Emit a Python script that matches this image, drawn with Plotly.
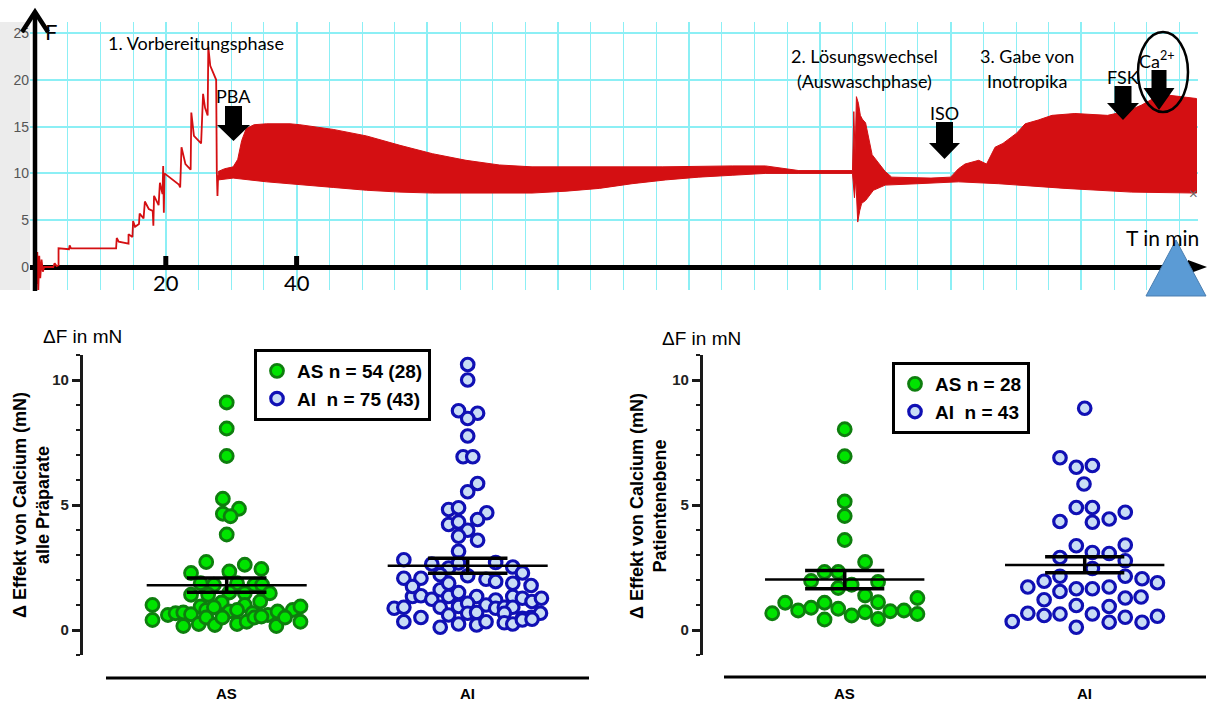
import numpy as np
import plotly.graph_objects as go

W, H = 1207, 703

# ---------------- data: force trace (top) ----------------
prep_t = [0.0, 0.1, 0.2, 0.35, 0.5, 0.65, 0.8, 1.0, 1.2, 1.4, 2.8, 3.0, 3.3, 3.6, 3.6, 5.2, 5.3, 5.5, 12.4, 12.5,
          12.8, 14.3, 14.3, 14.9, 15.0, 15.3, 15.9, 16.0, 16.6, 16.8, 17.4, 18.0, 18.1, 18.2, 18.9, 19.1, 19.5, 19.6,
          19.7, 19.8, 22.0, 22.2, 22.4, 23.0, 23.8, 23.9, 24.3, 25.4, 25.7, 26.0, 26.4, 26.5, 26.8, 27.7, 27.8, 27.9, 28.0]
prep_f = [0.0, 2.4, -1.8, 1.6, -2.6, 1.2, -1.2, 0.8, -0.5, 0.0, 0.0, 0.4, 0.1, 0.2, 2.0, 1.9, 2.3, 2.0, 2.0, 3.1,
          2.7, 2.5, 3.5, 3.2, 4.9, 4.3, 4.6, 5.7, 5.2, 7.0, 6.2, 6.0, 4.4, 7.6, 6.6, 9.0, 7.8, 10.8, 5.8, 10.0,
          8.8, 8.5, 12.8, 11.0, 10.4, 16.5, 14.0, 13.2, 18.5, 17.0, 16.2, 23.5, 21.5, 20.0, 10.2, 7.6, 9.8]

up_t = [28.0, 29.0, 30.3, 31.0, 31.6, 32.3, 33.5, 35.4, 39.0, 40.5, 45.6, 50.7, 55.8, 60.8, 65.9, 71.0, 76.0, 86.0,
        96.0, 106.6, 111.7, 116.8, 125.0, 125.2, 125.4, 125.6, 125.9, 126.2, 126.5, 127.0, 128.0, 130.0, 131.0,
        137.0, 140.0, 141.2, 142.2, 144.3, 145.5, 146.8, 148.0, 150.1, 151.4, 153.4, 155.5, 159.0, 164.0, 167.2,
        169.2, 171.0, 172.8, 177.6]
up_f = [10.2, 10.5, 10.7, 11.5, 13.5, 14.8, 15.2, 15.3, 15.3, 15.2, 14.7, 14.0, 13.0, 12.1, 11.4, 10.9, 10.7, 10.7,
        10.7, 10.8, 10.8, 10.3, 10.3, 16.6, 12.0, 18.2, 17.5, 16.2, 15.8, 15.4, 12.0, 10.2, 9.6,
        9.5, 9.6, 10.5, 11.0, 11.4, 11.0, 12.8, 13.2, 14.3, 15.3, 15.7, 16.2, 16.4, 16.2, 16.7,
        17.3, 18.0, 18.4, 18.0]
lo_t = [28.0, 29.0, 30.3, 35.4, 40.5, 45.6, 50.7, 55.8, 60.8, 70.0, 76.0, 81.2, 86.3, 91.3, 96.4, 101.5, 106.6,
        111.7, 116.8, 125.0, 125.3, 125.5, 125.8, 126.1, 126.4, 127.0, 128.2, 130.0, 135.0, 141.2, 147.3, 157.5,
        167.7, 177.6]
lo_f = [9.3, 9.4, 9.5, 9.1, 8.8, 8.5, 8.2, 8.0, 7.9, 7.9, 7.9, 8.1, 8.4, 8.9, 9.3, 9.6, 9.8,
        10.0, 10.0, 10.0, 7.4, 9.5, 4.8, 6.0, 6.8, 7.1, 8.2, 8.75, 8.9, 9.1, 8.9, 8.4,
        8.0, 7.9]

# ---------------- data: scatter panels ----------------
categories = ["AS", "AI"]

as_all_off = [0, 0, 0, -0.016, 0.051, -0.016, 0.016, 0,
              -0.085, -0.148, 0.011, 0.075, 0.144,
              -0.108, -0.053, 0.043, 0.115, 0.147,
              -0.148, -0.077, 0.011, 0.075, 0.179,
              -0.021, 0.139, -0.108, 0.075, -0.308,
              -0.244, -0.212, -0.180, -0.148, -0.085, -0.053, 0.011, 0.043, 0.107, 0.171, 0.211, 0.274, 0.306,
              -0.308, -0.180, -0.116, -0.085, -0.049, -0.018, 0.043, 0.083, 0.115, 0.144, 0.206, 0.242, 0.306]
as_all_val = [9.10, 8.06, 6.96, 5.25, 4.85, 4.65, 4.55, 3.82,
              2.72, 2.28, 2.34, 2.61, 2.44,
              1.87, 1.81, 1.87, 1.81, 1.81,
              1.41, 1.41, 1.50, 1.47, 1.47,
              1.10, 1.14, 0.94, 1.00, 1.00,
              0.60, 0.67, 0.70, 0.63, 0.80, 0.91, 0.74, 0.80, 0.67, 0.60, 0.74, 0.80, 0.94,
              0.40, 0.16, 0.24, 0.50, 0.20, 0.50, 0.24, 0.33, 0.50, 0.54, 0.16, 0.50, 0.33]

ai_all_off = [0, 0, -0.038, 0.041, 0, 0, -0.019, 0.021, 0.041, 0, 0.079, -0.079, -0.038, -0.079, -0.038, 0.041, 0,
              -0.038, 0.041, -0.038,
              -0.265, -0.149, 0.116, -0.079, 0.187,
              -0.265, -0.194, -0.114, 0, 0.076, 0.116, 0.187, 0.227, 0.263,
              -0.229, -0.194, -0.149, -0.114, -0.079, -0.038, 0.037, 0.116, 0.187, 0.227, 0.267, 0.306,
              -0.305, -0.265, -0.114, -0.038, 0, 0.076, 0.116, 0.152, 0.187,
              -0.194, -0.079, 0, 0.037, 0.152, 0.227, 0.263, 0.302,
              -0.265, -0.114, -0.038, 0.037, 0.076, 0.152, 0.187, 0.227, 0.267,
              -0.229, -0.079, -0.038]
ai_all_val = [10.62, 10.0, 8.77, 8.67, 8.46, 7.76, 6.93, 6.93, 5.86, 5.53, 4.69, 4.82, 4.89, 4.22, 4.32, 4.42, 3.99,
              3.75, 3.59, 3.15,
              2.81, 2.64, 2.70, 2.48, 2.52,
              2.07, 2.07, 2.21, 2.17, 2.03, 1.94, 1.87, 2.28, 1.78,
              1.34, 1.37, 1.23, 1.61, 1.34, 1.50, 1.34, 1.20, 1.34, 1.27, 1.14, 1.27,
              0.87, 0.91, 0.91, 0.94, 1.07, 1.00, 0.87, 0.91, 0.91,
              0.50, 0.60, 0.67, 0.70, 0.67, 0.47, 0.51, 0.67,
              0.33, 0.11, 0.24, 0.20, 0.33, 0.29, 0.24, 0.40, 0.43,
              1.74, 1.87, 2.68]

as_pat_off = [0, 0, 0, 0, 0, 0.085, -0.084, -0.027, -0.140, 0.029, -0.027, 0.139, 0.085, 0.303, -0.248, -0.084,
              0.139, -0.302, -0.194, -0.140, -0.027, 0.085, 0.190, 0.247, 0.303, -0.084, 0.029, 0.139]
as_pat_val = [8.03, 6.95, 5.14, 4.56, 3.60, 2.72, 2.32, 2.32, 1.96, 1.81, 1.68, 1.92, 1.38, 1.28, 1.09, 1.09,
              1.11, 0.67, 0.78, 0.89, 0.85, 0.71, 0.75, 0.78, 0.64, 0.42, 0.58, 0.44]

ai_pat_off = [0, -0.103, -0.035, 0.032, -0.003, -0.035, 0.032, 0.169, -0.103, 0.032, 0.102, -0.035, 0.169, -0.103,
              0.032, 0.102, 0.169, -0.103, 0.032, 0.169, -0.237, -0.169, -0.103, -0.035, 0.032, 0.102, 0.239,
              0.303, -0.169, -0.035, 0.102, 0.169, 0.235, -0.302, -0.237, -0.169, -0.103, 0.032, -0.035, 0.102,
              0.169, 0.239, 0.303]
ai_pat_val = [8.87, 6.89, 6.51, 6.58, 5.84, 4.90, 4.90, 4.71, 4.34, 4.31, 4.44, 3.37, 3.40, 2.90, 3.10, 3.06,
              2.77, 2.15, 2.46, 2.15, 1.72, 1.95, 1.54, 1.65, 1.65, 1.72, 2.05, 1.89, 1.21, 0.98, 0.94, 1.28,
              1.32, 0.34, 0.67, 0.58, 0.64, 0.64, 0.11, 0.31, 0.51, 0.31, 0.55]

all_mean = [1.79, 2.57]
all_sem_hi = [2.08, 2.87]
all_sem_lo = [1.51, 2.27]
pat_mean = [2.02, 2.60]
pat_sem_hi = [2.38, 2.93]
pat_sem_lo = [1.65, 2.29]

legend_all = ["AS n = 54 (28)", "AI\u00a0 n = 75 (43)"]
legend_pat = ["AS n = 28", "AI\u00a0 n = 43"]

# ---------------- helpers ----------------
def P(x, y):
    return x / W, 1 - y / H

RED = "#D40F12"
CYAN = "#8CEFF5"
GREEN_F, GREEN_L = "#00E400", "#0E7E0E"
BLUE_F, BLUE_L = "#C9DDF5", "#1010B4"
SANS = "Liberation Sans, Arial, sans-serif"
CAL = "Lato, Open Sans, sans-serif"

fig = go.Figure()

# top: force trace
fig.add_trace(go.Scatter(x=prep_t, y=prep_f, mode="lines", line=dict(color=RED, width=1.8),
                         showlegend=False, xaxis="x", yaxis="y", hoverinfo="skip"))
fig.add_trace(go.Scatter(x=up_t + lo_t[::-1], y=up_f + lo_f[::-1], mode="lines", fill="toself",
                         fillcolor=RED, line=dict(color=RED, width=1), showlegend=False,
                         xaxis="x", yaxis="y", hoverinfo="skip"))

# bottom scatter panels
def add_group(xa, ya, idx, off, val, name, legend, green):
    x = np.full(len(off), float(idx)) + np.array(off)
    if green:
        mk = dict(size=13, color=GREEN_F, line=dict(color=GREEN_L, width=2.8))
    else:
        mk = dict(size=12.5, color=BLUE_F, line=dict(color=BLUE_L, width=3.2))
    fig.add_trace(go.Scatter(x=x, y=val, mode="markers", marker=mk, name=name, legend=legend,
                             xaxis=xa, yaxis=ya, showlegend=True))

def add_stats(xa, ya, means, hi, lo):
    for i, (m, h, l) in enumerate(zip(means, hi, lo)):
        fig.add_trace(go.Scatter(x=[i - 0.332, i + 0.332], y=[m, m], mode="lines",
                                 line=dict(color="black", width=2.5), showlegend=False, xaxis=xa, yaxis=ya))
        fig.add_trace(go.Scatter(x=[i - 0.165, i + 0.165, None, i - 0.165, i + 0.165, None, i, i],
                                 y=[h, h, None, l, l, None, l, h], mode="lines",
                                 line=dict(color="black", width=3.5), showlegend=False, xaxis=xa, yaxis=ya))

add_group("x2", "y2", 0, as_all_off, as_all_val, legend_all[0], "legend", True)
add_group("x2", "y2", 1, ai_all_off, ai_all_val, legend_all[1], "legend", False)
add_stats("x2", "y2", all_mean, all_sem_hi, all_sem_lo)
add_group("x3", "y3", 0, as_pat_off, as_pat_val, legend_pat[0], "legend2", True)
add_group("x3", "y3", 1, ai_pat_off, ai_pat_val, legend_pat[1], "legend2", False)
add_stats("x3", "y3", pat_mean, pat_sem_hi, pat_sem_lo)

# ---------------- axes ----------------
t_per_px = 1 / 6.54
x0_t = (30 - 35) * t_per_px
x1_t = (1198 - 35) * t_per_px
f_per_px = 1 / 9.36
y0_f = (267 - 290) * f_per_px
y1_f = (267 - 22) * f_per_px

lay = dict(
    width=W, height=H, margin=dict(l=0, r=0, t=0, b=0),
    paper_bgcolor="white", plot_bgcolor="white",
    xaxis=dict(domain=[30 / W, 1198 / W], range=[x0_t, x1_t], anchor="y",
               tickmode="linear", tick0=0, dtick=20, showgrid=True, gridcolor=CYAN, gridwidth=2,
               minor=dict(dtick=5, tick0=0, showgrid=True, gridcolor=CYAN, gridwidth=1.3),
               showticklabels=False, zeroline=False, showline=False, ticks=""),
    yaxis=dict(domain=[1 - 290 / H, 1 - 22 / H], range=[y0_f, y1_f], anchor="x",
               tickmode="linear", tick0=0, dtick=5, showgrid=True, gridcolor=CYAN, gridwidth=1.6,
               zeroline=True, zerolinecolor="black", zerolinewidth=4.5,
               tickfont=dict(family=SANS, size=14, color="#555"), ticks="", showline=False),
)

def scatter_axes(xname, yname, x_left_px, x_right_px, center0_px, unit_px):
    xr0 = (x_left_px - center0_px) / unit_px
    xr1 = (x_right_px - center0_px) / unit_px
    lay[xname] = dict(domain=[x_left_px / W, x_right_px / W], range=[xr0, xr1],
                      anchor=yname.replace("axis", ""), visible=False)
    lay[yname] = dict(domain=[1 - 655 / H, 1 - 355 / H], range=[-1, 11],
                      anchor=xname.replace("axis", ""), tickmode="linear", tick0=0, dtick=5,
                      showline=True, linecolor="#1a1a1a", linewidth=2.5, ticks="outside", ticklen=8,
                      tickwidth=2.5, tickcolor="#1a1a1a",
                      minor=dict(dtick=1, tick0=0, ticks="outside", ticklen=4, tickwidth=2, tickcolor="#1a1a1a"),
                      showgrid=False, zeroline=False,
                      tickfont=dict(family=SANS, size=15, color="#222", weight="bold"))

scatter_axes("xaxis2", "yaxis2", 82.7, 600, 226.7, 241)
scatter_axes("xaxis3", "yaxis3", 702.6, 1207, 844.7, 240)

leg_common = dict(xanchor="left", yanchor="top", bordercolor="black", borderwidth=3, bgcolor="white",
                  font=dict(family=SANS, size=19, color="black", weight="bold"), itemsizing="trace",
                  tracegroupgap=0)
lx, ly = P(254, 349)
lay["legend"] = dict(x=lx, y=ly, **leg_common)
lx, ly = P(892, 362)
lay["legend2"] = dict(x=lx, y=ly, **leg_common)
fig.update_layout(**lay)

# ---------------- shapes ----------------
shapes = []

def pline(x0, y0, x1, y1, w=2, color="black"):
    a, b = P(x0, y0)
    c, d = P(x1, y1)
    shapes.append(dict(type="line", xref="paper", yref="paper", x0=a, y0=b, x1=c, y1=d,
                       line=dict(color=color, width=w), layer="above"))

def ppath(points, fill, line_color=None, w=0, closed=True, layer="above"):
    s = ""
    for i, (x, y) in enumerate(points):
        a, b = P(x, y)
        s += ("M" if i == 0 else "L") + f" {a:.5f} {b:.5f} "
    if closed:
        s += "Z"
    shapes.append(dict(type="path", xref="paper", yref="paper", path=s, fillcolor=fill,
                       line=dict(color=line_color or fill, width=w), layer=layer))

# gray strip behind y tick labels
a, b = P(0, 290)
c, d = P(30, 22)
shapes.append(dict(type="rect", xref="paper", yref="paper", x0=a, y0=b, x1=c, y1=d,
                   fillcolor="#ECECEC", line=dict(width=0), layer="below"))

# y axis with open arrowhead
pline(35, 291, 35, 12, w=4.5)
shapes.append(dict(type="path", xref="paper", yref="paper",
                   path="M {} {} L {} {} L {} {}".format(*P(22, 32), *P(35, 12), *P(48, 32)),
                   line=dict(color="black", width=4.5), layer="above"))
# x axis arrowhead
ppath([(1188, 260), (1207, 267), (1188, 274)], "black")
# ticks at 20 and 40
for tv in [20, 40]:
    shapes.append(dict(type="line", xref="x", yref="paper", x0=tv, x1=tv, y0=1 - 267 / H, y1=1 - 256 / H,
                       line=dict(color="black", width=5), layer="above"))

def block_arrow(cx, ytop, sw, sh, hw, hh):
    ppath([(cx - sw / 2, ytop), (cx + sw / 2, ytop), (cx + sw / 2, ytop + sh), (cx + hw / 2, ytop + sh),
           (cx, ytop + sh + hh), (cx - hw / 2, ytop + sh), (cx - sw / 2, ytop + sh)], "black")

block_arrow(233.5, 106, 17, 19, 33, 16)
block_arrow(944.5, 122, 17, 21, 31, 16)
block_arrow(1123, 86, 17, 17, 32, 17)
block_arrow(1159, 70, 15, 18, 31, 22)

# ellipse around Ca2+
a, b = P(1138, 112)
c, d = P(1188, 32)
shapes.append(dict(type="circle", xref="paper", yref="paper", x0=a, y0=b, x1=c, y1=d,
                   line=dict(color="black", width=2.5), layer="above"))

# blue triangle
ppath([(1146, 296), (1176, 240), (1206, 296)], "#5B9BD5", "#4A7EB0", 1)

# baselines under scatter panels
pline(106, 678, 589, 678, w=3)
pline(724, 677, 1206, 677, w=3)

fig.update_layout(shapes=shapes)

# ---------------- annotations ----------------
ann = []

def txt(x, y, s, size, family=CAL, color="black", weight="normal", xanchor="center", angle=0, align="center"):
    a, b = P(x, y)
    ann.append(dict(x=a, y=b, xref="paper", yref="paper", text=s, showarrow=False, xanchor=xanchor,
                    yanchor="middle", textangle=angle, align=align,
                    font=dict(family=family, size=size, color=color, weight=weight)))

txt(196, 43, "1. Vorbereitungsphase", 18)
txt(233, 96, "PBA", 18)
txt(865, 56, "2. Lösungswechsel", 18)
txt(865, 81, "(Auswaschphase)", 18)
txt(1027, 56, "3. Gabe von", 18)
txt(1027, 81, "Inotropika", 18)
txt(944, 113, "ISO", 18)
txt(1123, 77, "FSK", 18)
txt(1157, 60, "Ca<sup>2+</sup>", 18)
txt(1162, 238, "T in min", 21)
txt(51, 31, "F", 22)
txt(1193, 193, "×", 15, color="#666")
for tv in [20, 40]:
    ann.append(dict(x=tv, y=1 - 282 / H, xref="x", yref="paper", text=str(tv), showarrow=False,
                    yanchor="middle", font=dict(family=CAL, size=22, color="black")))

# bottom panels
txt(82, 337, "ΔF in mN", 19, family=SANS)
txt(701, 338, "ΔF in mN", 19, family=SANS)
txt(31, 505, "Δ Effekt von Calcium (mN)<br>alle Präparate", 18, family=SANS, weight="bold", angle=-90)
txt(648, 506, "Δ Effekt von Calcium (mN)<br>Patientenebene", 18, family=SANS, weight="bold", angle=-90)
for xa, i in [("x2", 0), ("x2", 1), ("x3", 0), ("x3", 1)]:
    ann.append(dict(x=i, y=1 - 693 / H, xref=xa, yref="paper", text=categories[i], showarrow=False,
                    yanchor="middle", font=dict(family=SANS, size=15, color="black", weight="bold")))

fig.update_layout(annotations=ann)

fig.write_html("out.html")
